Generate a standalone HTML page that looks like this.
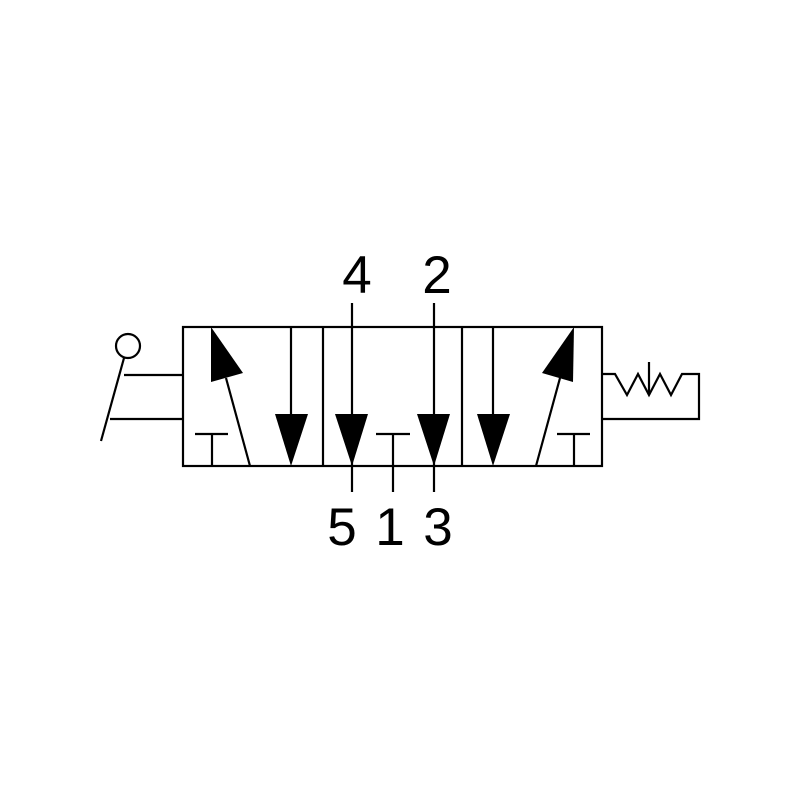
<!DOCTYPE html>
<html><head><style>body{margin:0;background:#fff}</style></head><body>
<svg width="800" height="800" viewBox="0 0 800 800" xmlns="http://www.w3.org/2000/svg">
<g stroke="#000" stroke-width="2.2" fill="none">
<rect x="183" y="327" width="419" height="139"/>
<line x1="323" y1="327" x2="323" y2="466"/>
<line x1="462" y1="327" x2="462" y2="466"/>
<!-- left section -->
<line x1="250" y1="466" x2="226" y2="378"/>
<line x1="195" y1="434" x2="228" y2="434"/>
<line x1="212" y1="434" x2="212" y2="466"/>
<line x1="291" y1="327" x2="291" y2="416"/>
<!-- middle -->
<line x1="352" y1="303" x2="352" y2="492"/>
<line x1="434" y1="303" x2="434" y2="492"/>
<line x1="376" y1="434" x2="410" y2="434"/>
<line x1="393" y1="434" x2="393" y2="492"/>
<!-- right section -->
<line x1="493" y1="327" x2="493" y2="416"/>
<line x1="536" y1="466" x2="560" y2="378"/>
<line x1="557" y1="434" x2="590" y2="434"/>
<line x1="574" y1="434" x2="574" y2="466"/>
<!-- spring -->
<polyline points="602,374 615,374 627,395 638,374 649,395 660,374 671,395 682,374 699,374 699,419 602,419"/>
<line x1="649" y1="362" x2="649" y2="395"/>
<!-- lever -->
<circle cx="128" cy="346" r="12"/>
<line x1="124" y1="358" x2="101" y2="441"/>
<line x1="124" y1="375" x2="183" y2="375"/>
<line x1="110" y1="419" x2="183" y2="419"/>
</g>
<g fill="#000">
<polygon points="211,327 243,373 211,382"/>
<polygon points="275,414 308,414 291,466"/>
<polygon points="335,414 368,414 352,466"/>
<polygon points="417,414 450,414 434,466"/>
<polygon points="477,414 510,414 493,466"/>
<polygon points="574,327 573,382 542,373"/>
</g>
<g font-family="Liberation Sans, sans-serif" font-size="53" text-anchor="middle" fill="#000">
<text x="357" y="293">4</text>
<text x="437" y="293">2</text>
<text x="342" y="545">5</text>
<text x="390" y="545">1</text>
<text x="438" y="545">3</text>
</g>
</svg>
</body></html>
